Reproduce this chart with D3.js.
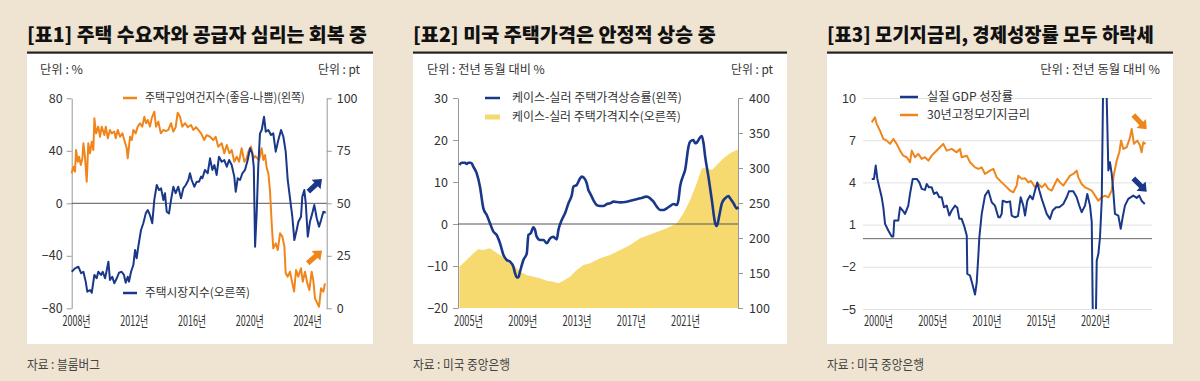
<!DOCTYPE html>
<html><head><meta charset="utf-8">
<script src="https://cdn.jsdelivr.net/npm/d3@7"></script>
<style>
html,body{margin:0;padding:0;background:#efe4d1;}
svg{display:block;font-family:"Noto Sans CJK KR","Noto Sans",sans-serif;}
</style></head><body>
<svg id="c" width="1200" height="381"></svg>
<script>
// ---------- DATA ----------
const titles = ["[표1] 주택 수요자와 공급자 심리는 회복 중", "[표2] 미국 주택가격은 안정적 상승 중", "[표3] 모기지금리, 경제성장률 모두 하락세"];
const sources = ["자료 : 블룸버그", "자료 : 미국 중앙은행", "자료 : 미국 중앙은행"];

// Panel 1
const p1Ticks = [2008, 2012, 2016, 2020, 2024];
const p1LeftTicks = [-80, -40, 0, 40, 80];
const p1RightTicks = [0, 25, 50, 75, 100];
const p1BuyYear = [2007.70,2007.81,2007.93,2008.00,2008.12,2008.21,2008.33,2008.44,2008.51,2008.62,2008.74,2008.85,2008.97,2009.09,2009.20,2009.27,2009.39,2009.54,2009.66,2009.78,2009.96,2010.06,2010.20,2010.35,2010.47,2010.65,2010.75,2010.89,2011.05,2011.21,2011.34,2011.51,2011.58,2011.74,2011.86,2011.97,2012.13,2012.27,2012.43,2012.59,2012.73,2012.85,2012.97,2013.12,2013.24,2013.42,2013.54,2013.70,2013.87,2014.05,2014.21,2014.39,2014.58,2014.74,2014.90,2015.04,2015.20,2015.36,2015.55,2015.74,2015.96,2016.12,2016.31,2016.47,2016.66,2016.88,2017.05,2017.28,2017.51,2017.67,2017.85,2018.09,2018.27,2018.44,2018.62,2018.78,2018.96,2019.13,2019.29,2019.47,2019.66,2019.82,2019.93,2020.12,2020.28,2020.40,2020.67,2020.86,2020.97,2021.09,2021.21,2021.32,2021.43,2021.55,2021.66,2021.83,2021.97,2022.13,2022.29,2022.43,2022.52,2022.66,2022.82,2022.98,2023.10,2023.24,2023.39,2023.58,2023.70,2023.86,2024.02,2024.16,2024.32,2024.43,2024.55,2024.71,2024.83,2024.97,2025.13,2025.24];
const p1Buy = [22.9,27.9,24.1,40.6,31.7,35.5,29.2,34.3,45.7,35.5,16.5,45.7,38.1,46.9,40.6,64.8,53.3,58.4,50.7,58.4,52,58.4,49.5,55.9,53.3,54.6,49.5,55.9,50.7,53.3,48.2,41.9,34.3,50.7,48.2,55.9,53.3,58.4,61,58.4,66,61,63.5,58.4,64.8,69.8,58.4,62.2,53.3,55.9,55,55.9,61,54.6,58,69,66,58.4,61,58,59.7,55.9,58,55.9,53.3,48.2,52,50.7,48.2,50.7,43.1,45.7,38.1,44.4,38.1,40.6,31.7,35.5,31.7,41.9,31.7,34.3,39.3,43.1,34.3,36,33,41.9,33,36.8,26.7,22.9,10.1,-15.2,-34.3,-30.5,-35.6,-22.9,-25.4,-33,-53.3,-55.9,-52.1,-61,-67.3,-50.8,-55.9,-49.5,-59.7,-52.1,-61,-66,-52.1,-58.4,-72.4,-76.2,-78.8,-64.8,-67.3,-61];
const p1MktYear = [2007.70,2007.93,2008.16,2008.35,2008.51,2008.67,2008.78,2008.97,2009.09,2009.27,2009.43,2009.54,2009.73,2009.85,2010.01,2010.13,2010.24,2010.35,2010.51,2010.65,2010.82,2010.98,2011.16,2011.32,2011.44,2011.58,2011.67,2011.81,2011.97,2012.09,2012.20,2012.31,2012.50,2012.66,2012.83,2012.97,2013.12,2013.28,2013.42,2013.59,2013.75,2013.89,2014.05,2014.16,2014.28,2014.44,2014.58,2014.74,2014.90,2015.08,2015.27,2015.43,2015.60,2015.78,2015.89,2016.01,2016.19,2016.36,2016.52,2016.66,2016.75,2016.93,2017.12,2017.28,2017.44,2017.58,2017.74,2017.90,2018.09,2018.27,2018.44,2018.60,2018.78,2018.96,2019.06,2019.20,2019.36,2019.52,2019.70,2019.89,2020.05,2020.21,2020.31,2020.40,2020.51,2020.62,2020.74,2020.86,2021.02,2021.14,2021.32,2021.50,2021.66,2021.83,2022.01,2022.20,2022.36,2022.52,2022.66,2022.82,2022.98,2023.12,2023.28,2023.40,2023.58,2023.67,2023.81,2023.91,2024.05,2024.20,2024.36,2024.50,2024.67,2024.83,2024.97,2025.13,2025.29];
const p1Mkt = [17.4,19,19.8,16.7,17.4,12.7,7.9,8.7,7.4,15.9,14.3,17.4,15.9,17.4,14.3,18.2,22.2,13.5,15,11.9,14.3,17,17.4,15.9,12.2,15,12.7,17.4,20.6,27.8,23.8,29.3,37.3,40.5,45.2,46.8,44.4,40.5,51.6,58.7,56.3,57.1,51.6,54.8,46,45.2,51.6,57.9,54.8,57.9,52.4,57.1,58.7,61.1,64.3,61.1,57.9,60.3,60.3,62.7,61.9,65.9,64.3,71.4,65.9,68.2,63.5,72.2,69.8,70.6,67.4,70.6,68.2,62.7,55.5,61.9,61.1,64.3,65.9,70.6,76.2,73.8,67.4,29.3,45.2,67.4,83.3,84.9,91.2,84.1,84.9,82.5,83.3,74.6,80.1,84.9,81.7,74.6,61.1,52.4,43.6,32.5,37.3,41.2,43.6,53.1,56.3,50,34.1,41.2,45.2,49.2,42.9,38.9,42,46,45.5];
const p1Legend = ["주택구입여건지수(좋음-나쁨)(왼쪽)", "주택시장지수(오른쪽)"];

// Panel 2
const p2Ticks = [2005, 2009, 2013, 2017, 2021];
const p2LeftTicks = [-20, -10, 0, 10, 20, 30];
const p2RightTicks = [100, 150, 200, 250, 300, 350, 400];
const p2RateYear = [2004.36,2004.53,2004.78,2004.90,2005.02,2005.15,2005.27,2005.39,2005.64,2005.88,2006.13,2006.38,2006.62,2006.87,2007.11,2007.36,2007.61,2007.85,2008.10,2008.34,2008.47,2008.59,2008.71,2008.83,2009.08,2009.33,2009.45,2009.62,2009.82,2009.94,2010.06,2010.31,2010.56,2010.80,2011.05,2011.29,2011.42,2011.54,2011.66,2011.91,2012.15,2012.40,2012.65,2012.77,2013.01,2013.26,2013.38,2013.63,2013.75,2013.87,2014.00,2014.24,2014.49,2014.73,2014.98,2015.23,2015.47,2015.72,2016.21,2016.70,2017.19,2017.68,2018.18,2018.42,2018.67,2018.91,2019.16,2019.41,2019.65,2019.90,2020.14,2020.39,2020.51,2020.63,2020.88,2021.00,2021.25,2021.37,2021.62,2021.74,2021.86,2022.11,2022.23,2022.36,2022.48,2022.72,2022.97,2023.22,2023.34,2023.53,2023.71,2023.95,2024.20,2024.32,2024.57,2024.81,2024.94];
const p2Rate = [14.05,14.6,14.6,14.29,14.6,14.6,14.44,13.65,12.06,8.89,3.73,2.14,0.16,-1.83,-2.62,-4.6,-7.38,-8.57,-8.97,-10.16,-11.75,-12.7,-12.7,-11.35,-8.57,-6.98,-2.62,-2.22,-0.79,-1.43,-3.02,-3.81,-3.81,-4.6,-3.41,-3.02,-3.41,-3.65,-1.43,0.95,2.54,4.92,6.9,8.89,9.29,10.87,11.27,10.63,9.68,8.1,7.3,5.71,4.52,4.29,4.29,4.76,4.92,5.32,5.16,5.32,5.71,6.11,6.51,6.11,5.32,4.13,3.33,3.33,3.73,4.29,4.76,4.52,5.71,8.89,11.67,12.86,18.41,19.6,20.0,19.21,19.37,20.63,20.95,19.21,16.03,11.27,5.71,0.16,-0.48,2.14,4.92,6.11,6.67,6.11,4.92,3.73,3.97];
const p2IndexYear = [2004.36,2004.90,2005.39,2005.76,2006.13,2006.62,2006.99,2007.36,2007.85,2008.34,2008.83,2009.33,2009.82,2010.31,2010.80,2011.29,2011.66,2012.03,2012.52,2013.01,2013.51,2014.00,2014.73,2015.47,2016.21,2016.95,2017.68,2018.67,2019.65,2020.39,2020.88,2021.37,2021.86,2022.23,2022.60,2022.97,2023.34,2023.83,2024.32,2024.81,2024.90];
const p2Index = [159,168.6,178,183.8,182.9,185.2,180.5,175.7,168.6,161.4,151.9,147.1,144.8,142.4,139,137.6,135.2,139,144.8,154.3,161.4,163.8,171,175.7,182.9,190,199.5,206.7,213.8,221,235.2,254.3,278.1,299.5,299.5,297.1,304.3,313.8,321,325.7,326.5];
const p2Legend = ["케이스-실러 주택가격상승률(왼쪽)", "케이스-실러 주택가격지수(오른쪽)"];

// Panel 3
const p3Ticks = [2000, 2005, 2010, 2015, 2020];
const p3YTicks = [-5, -2, 1, 4, 7, 10];
const p3MortYear = [1999.42,1999.72,1999.88,2000.18,2000.49,2000.80,2001.11,2001.41,2001.72,2002.03,2002.33,2002.65,2002.95,2003.11,2003.41,2003.71,2004.03,2004.33,2004.64,2004.95,2005.25,2005.71,2006.02,2006.33,2006.79,2007.25,2007.56,2007.71,2008.18,2008.48,2008.94,2009.24,2009.56,2009.86,2010.32,2010.63,2010.94,2011.40,2011.71,2012.17,2012.47,2012.78,2012.93,2013.24,2013.55,2013.85,2014.10,2014.47,2014.77,2015.09,2015.39,2015.70,2016.01,2016.31,2016.53,2016.77,2017.08,2017.39,2017.70,2018.00,2018.31,2018.46,2018.77,2019.08,2019.38,2019.70,2020.00,2020.30,2020.62,2020.92,2021.23,2021.54,2021.75,2022.00,2022.24,2022.40,2022.61,2022.92,2023.23,2023.38,2023.59,2023.90,2024.15,2024.29,2024.45,2024.67];
const p3Mort = [8.27,8.63,8.16,7.68,7.09,6.97,6.74,7.09,6.74,6.26,5.9,5.79,5.43,6.26,5.79,6.03,5.67,5.79,5.55,5.9,6.14,6.5,6.74,6.26,6.38,6.14,6.38,5.79,5.9,5.43,5.07,4.96,5.07,4.6,4.84,4.96,4.36,4.0,3.77,3.42,3.3,3.77,4.48,4.25,4.3,4.0,4.1,3.65,3.89,3.65,3.9,3.54,3.42,3.9,4.25,4.0,3.77,4.13,4.48,4.6,4.84,4.36,3.89,3.65,3.54,3.42,3.06,2.7,2.94,3.06,2.94,3.42,4.6,5.55,6.14,6.97,6.38,6.5,7.2,7.8,6.74,6.97,6.62,6.14,6.85,6.74];
const p3GdpYear = [1999.42,1999.63,1999.79,1999.94,2000.12,2000.34,2000.49,2000.65,2000.95,2001.26,2001.41,2001.50,2001.87,2002.03,2002.28,2002.49,2002.79,2002.95,2003.20,2003.57,2003.81,2004.03,2004.33,2004.49,2004.70,2004.95,2005.16,2005.41,2005.65,2005.87,2006.08,2006.33,2006.57,2006.79,2007.10,2007.31,2007.49,2007.71,2007.93,2008.18,2008.23,2008.48,2008.69,2008.94,2009.10,2009.24,2009.34,2009.56,2009.86,2010.17,2010.48,2010.78,2011.09,2011.24,2011.40,2011.49,2011.86,2012.17,2012.32,2012.63,2012.90,2013.15,2013.39,2013.55,2013.76,2014.01,2014.26,2014.47,2014.68,2014.87,2015.09,2015.30,2015.55,2015.85,2016.10,2016.41,2016.71,2017.08,2017.39,2017.60,2018.00,2018.31,2018.55,2018.77,2019.08,2019.29,2019.54,2019.70,2019.85,2020.01,2020.16,2020.31,2020.46,2020.62,2020.77,2021.02,2021.23,2021.38,2021.54,2021.68,2021.84,2022.15,2022.37,2022.55,2022.76,2023.07,2023.53,2023.84,2024.08,2024.29,2024.59];
const p3Gdp = [4.25,4.25,5.2,4.25,3.65,2.94,2.23,1.05,0.58,0.15,0.15,1.29,1.29,2.23,2.0,1.76,2.35,3.18,4.25,4.25,4.0,3.54,3.47,3.89,3.65,3.65,3.18,3.3,2.94,2.94,2.23,2.35,1.64,2.0,2.35,2.2,1.41,1.41,0.93,0.22,-2.5,-2.62,-3.21,-3.97,-3.1,-1.32,0.1,1.76,3.06,3.42,2.59,2.35,1.52,1.52,1.76,2.7,2.59,2.65,1.64,1.52,1.6,2.94,2.35,1.64,2.7,3.06,2.8,3.42,4.0,3.42,2.83,2.35,1.76,1.41,2.0,2.23,2.23,2.47,2.94,3.37,3.37,2.94,2.35,1.88,2.35,3.18,2.35,1.17,-9,-9,-1.56,-1.08,0.1,2.7,12.2,12,4.84,5.43,4.6,3.42,1.76,1.64,0.7,1.52,2.35,2.83,3.06,2.9,3.06,2.7,2.47];
const p3Legend = ["실질 GDP 성장률", "30년고정모기지금리"];

const unitLabels = ["단위 : %", "단위 : pt", "단위 : 전년 동월 대비 %"];

// ---------- STYLE ----------
const ORANGE = "#f0861b", BLUE = "#1a3889", YELLOW = "#f6da70", TXT = "#333";
const svg = d3.select("#c");
svg.append("rect").attr("width",1200).attr("height",381).attr("fill","#efe4d1");

function txt(g, x, y, s, o = {}) {
  const t = g.append("text")
    .attr("text-anchor", o.anchor || "start")
    .attr("font-size", o.size || 12)
    .attr("font-weight", o.weight || 400)
    .attr("fill", o.fill || TXT)
    .attr("dy", o.dy || "0.35em")
    .text(s);
  let sx = o.sx || 1;
  if (o.width) { const w = t.node().getComputedTextLength(); sx = o.width / w; }
  t.attr("transform", `translate(${x},${y}) scale(${sx},1)`);
  return t;
}
function pair(xs, ys) { return xs.map((x, i) => [x, ys[i]]); }
function arrow(g, x0, y0, x1, y1, color) {
  const L = Math.hypot(x1 - x0, y1 - y0), a = Math.atan2(y1 - y0, x1 - x0) * 180 / Math.PI;
  const hl = 8, sw = 2.6, hw = 6.5;
  g.append("path").attr("d", `M0,${-sw}L${L-hl},${-sw}L${L-hl},${-hw}L${L},0L${L-hl},${hw}L${L-hl},${sw}L0,${sw}Z`)
    .attr("fill", color).attr("transform", `translate(${x0},${y0}) rotate(${a})`);
}

// panel frames
const panels = [{x0:27,x1:373},{x0:413,x1:787},{x0:827,x1:1173}];
const titleW = [340, 303, 327];
const sourceW = [73, 97, 97];
panels.forEach((p, i) => {
  svg.append("rect").attr("x", p.x0).attr("y", 53).attr("width", p.x1 - p.x0).attr("height", 291).attr("fill", "#fff");
  svg.append("rect").attr("x", p.x0).attr("y", 51.5).attr("width", p.x1 - p.x0).attr("height", 2.2).attr("fill", "#222");
  txt(svg, p.x0, 35, titles[i], {size: 19.5, weight: 900, fill: "#111", width: titleW[i]});
  txt(svg, p.x0, 364, sources[i], {size: 13, fill: "#444", width: sourceW[i]});
});

function styleAxis(g, sx, size) {
  g.selectAll("path.domain").attr("stroke", "#999");
  g.selectAll(".tick line").attr("stroke", "#999");
  g.selectAll(".tick text").attr("fill", TXT).attr("font-size", size || 12.5).attr("font-family", "'Noto Sans CJK KR', sans-serif");
  if (sx) g.selectAll(".tick text").attr("transform", `scale(${sx},1)`);
}

// ---------- PANEL 1 ----------
{
  const g = svg.append("g");
  const x = d3.scaleLinear().domain([2007.7, 2025.36]).range([71.7, 326.7]);
  const yL = d3.scaleLinear().domain([-80, 80]).range([308.3, 98.3]);
  const yR = d3.scaleLinear().domain([0, 100]).range([308.3, 98.3]);
  const ax1 = g.append("g").attr("transform", "translate(71.7,0)")
    .call(d3.axisLeft(yL).tickValues(p1LeftTicks).tickSize(5).tickSizeOuter(0).tickPadding(4).tickFormat(d3.format("d")));
  styleAxis(ax1);
  const ax2 = g.append("g").attr("transform", "translate(326.7,0)")
    .call(d3.axisRight(yR).tickValues(p1RightTicks).tickSize(5).tickSizeOuter(0).tickPadding(5));
  styleAxis(ax2);
  const ax3 = g.append("g").attr("transform", "translate(0,308)")
    .call(d3.axisBottom(x).tickValues(p1Ticks).tickSize(0).tickPadding(8).tickFormat(d => d + "년"));
  ax3.select(".domain").remove();
  styleAxis(ax3, 0.64, 14);
  g.append("line").attr("x1", 71.7).attr("x2", 326.7).attr("y1", yL(0)).attr("y2", yL(0)).attr("stroke", "#555").attr("stroke-width", 1);
  const lnL = d3.line().x(d => x(d[0])).y(d => yL(d[1]));
  const lnR = d3.line().x(d => x(d[0])).y(d => yR(d[1]));
  g.append("path").attr("d", lnL(pair(p1BuyYear, p1Buy))).attr("fill", "none").attr("stroke", ORANGE).attr("stroke-width", 2).attr("stroke-linejoin", "round");
  g.append("path").attr("d", lnR(pair(p1MktYear, p1Mkt))).attr("fill", "none").attr("stroke", BLUE).attr("stroke-width", 2).attr("stroke-linejoin", "round");
  txt(g, 40, 70, unitLabels[0], {size: 12, width: 43});
  txt(g, 360, 70, unitLabels[1], {size: 12, anchor: "end", width: 42});
  g.append("line").attr("x1", 123).attr("x2", 137).attr("y1", 98).attr("y2", 98).attr("stroke", ORANGE).attr("stroke-width", 2.5);
  txt(g, 145, 98, p1Legend[0], {size: 12, width: 160});
  g.append("line").attr("x1", 123).attr("x2", 137).attr("y1", 293).attr("y2", 293).attr("stroke", BLUE).attr("stroke-width", 2.5);
  txt(g, 145, 293, p1Legend[1], {size: 12, width: 105});
  arrow(g, 308.3, 191.7, 322, 179, BLUE);
  arrow(g, 307.7, 263.3, 322, 250.5, ORANGE);
}

// ---------- PANEL 2 ----------
{
  const g = svg.append("g");
  const x = d3.scaleLinear().domain([2004.26, 2024.9]).range([458, 738]);
  const yL = d3.scaleLinear().domain([-20, 30]).range([308, 98]);
  const yR = d3.scaleLinear().domain([100, 400]).range([308, 98]);
  const area = d3.area().x(d => x(d[0])).y0(yR(100)).y1(d => yR(d[1]));
  g.append("path").attr("d", area(pair(p2IndexYear, p2Index))).attr("fill", YELLOW);
  const ax1 = g.append("g").attr("transform", "translate(458,0)")
    .call(d3.axisLeft(yL).tickValues(p2LeftTicks).tickSize(5).tickSizeOuter(0).tickPadding(5));
  styleAxis(ax1);
  const ax2 = g.append("g").attr("transform", "translate(738,0)")
    .call(d3.axisRight(yR).tickValues(p2RightTicks).tickSize(5).tickSizeOuter(0).tickPadding(6));
  styleAxis(ax2);
  const ax3 = g.append("g").attr("transform", "translate(0,308)")
    .call(d3.axisBottom(x).tickValues(p2Ticks).tickSize(0).tickPadding(8).tickFormat(d => d + "년"));
  ax3.select(".domain").remove();
  styleAxis(ax3, 0.66, 14);
  g.append("line").attr("x1", 458).attr("x2", 738).attr("y1", yL(0)).attr("y2", yL(0)).attr("stroke", "#555").attr("stroke-width", 1);
  const ln = d3.line().curve(d3.curveMonotoneX).x(d => x(d[0])).y(d => yL(d[1]));
  g.append("path").attr("d", ln(pair(p2RateYear, p2Rate))).attr("fill", "none").attr("stroke", BLUE).attr("stroke-width", 2.6).attr("stroke-linejoin", "round");
  txt(g, 427, 70, unitLabels[2], {size: 12, width: 118});
  txt(g, 773, 70, unitLabels[1], {size: 12, anchor: "end", width: 42});
  g.append("line").attr("x1", 485).attr("x2", 500).attr("y1", 98).attr("y2", 98).attr("stroke", BLUE).attr("stroke-width", 2.5);
  txt(g, 512, 98, p2Legend[0], {size: 12, width: 170});
  g.append("rect").attr("x", 485).attr("y", 114.5).attr("width", 15).attr("height", 5).attr("fill", YELLOW);
  txt(g, 512, 117, p2Legend[1], {size: 12, width: 169});
}

// ---------- PANEL 3 ----------
{
  const g = svg.append("g");
  const x = d3.scaleLinear().domain([1998.617, 2025.253]).range([863, 1152]);
  const y = d3.scaleLinear().domain([-5, 10]).range([309, 98]);
  const ay = g.append("g").attr("transform", "translate(863,0)")
    .call(d3.axisLeft(y).tickValues(p3YTicks).tickSize(-289).tickSizeOuter(0).tickPadding(7));
  ay.select(".domain").remove();
  ay.selectAll(".tick line").attr("stroke", "#e2e2e2");
  ay.selectAll(".tick text").attr("fill", TXT).attr("font-size", 12.5);
  const ax = g.append("g").attr("transform", "translate(0,308)")
    .call(d3.axisBottom(x).tickValues(p3Ticks).tickSize(0).tickPadding(8).tickFormat(d => d + "년"));
  ax.select(".domain").remove();
  styleAxis(ax, 0.66, 14);
  g.append("line").attr("x1", 863).attr("x2", 1152).attr("y1", y(0)).attr("y2", y(0)).attr("stroke", "#666").attr("stroke-width", 1);
  svg.append("defs").append("clipPath").attr("id", "clip3").append("rect").attr("x", 860).attr("y", 98).attr("width", 295).attr("height", 211);
  const ln = d3.line().x(d => x(d[0])).y(d => y(d[1]));
  const cg = g.append("g").attr("clip-path", "url(#clip3)");
  cg.append("path").attr("d", ln(pair(p3MortYear, p3Mort))).attr("fill", "none").attr("stroke", ORANGE).attr("stroke-width", 2).attr("stroke-linejoin", "round");
  cg.append("path").attr("d", ln(pair(p3GdpYear, p3Gdp))).attr("fill", "none").attr("stroke", BLUE).attr("stroke-width", 2).attr("stroke-linejoin", "round");
  txt(g, 1160, 70, unitLabels[2], {size: 12, anchor: "end", width: 120});
  g.append("line").attr("x1", 900).attr("x2", 918).attr("y1", 97).attr("y2", 97).attr("stroke", BLUE).attr("stroke-width", 2.5);
  txt(g, 927, 97, p3Legend[0], {size: 12, width: 86});
  g.append("line").attr("x1", 900).attr("x2", 918).attr("y1", 115).attr("y2", 115).attr("stroke", ORANGE).attr("stroke-width", 2.5);
  txt(g, 927, 115, p3Legend[1], {size: 12, width: 103});
  arrow(g, 1133.3, 115, 1146.7, 129.3, ORANGE);
  arrow(g, 1133.3, 178.3, 1146.7, 191.7, BLUE);
}
</script>
</body></html>
